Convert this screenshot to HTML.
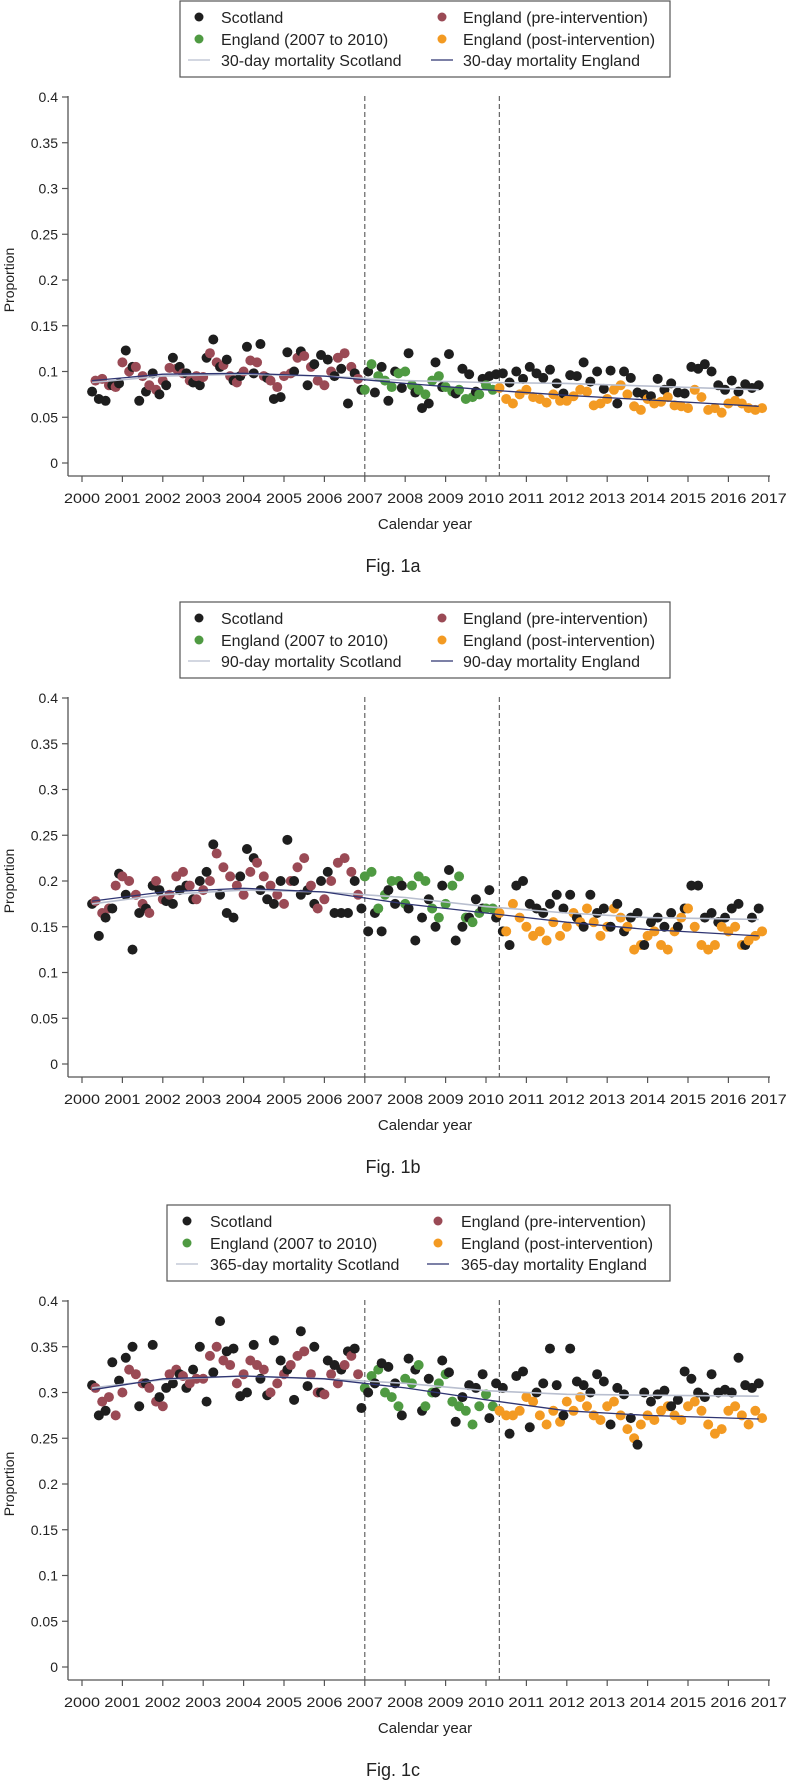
<!DOCTYPE html>
<html><head><meta charset="utf-8"><style>
html,body{margin:0;padding:0;background:#fff}
svg{display:block;font-family:"Liberation Sans",sans-serif}
</style></head><body>
<svg id="chart" width="787" height="1783" viewBox="0 0 787 1783" xmlns="http://www.w3.org/2000/svg"></svg>
<script>
// ---- data ----
const yearTicks = [2000,2001,2002,2003,2004,2005,2006,2007,2008,2009,2010,2011,2012,2013,2014,2015,2016,2017];
const yTickValues = [0,0.05,0.1,0.15,0.2,0.25,0.3,0.35,0.4];
const yTickLabels = ["0","0.05","0.1","0.15","0.2","0.25","0.3","0.35","0.4"];
const startYear = 2000.25, stepYear = 1/6;
const phaseBreaks = [2007, 2010.33];
const trendYears = [2000.25,2002,2004,2006,2008,2010,2012,2014,2016.75];
const panelTitles = ["Fig. 1a","Fig. 1b","Fig. 1c"];
const panelDays = ["30-day","90-day","365-day"];

const scotA = [.078,.070,.068,.085,.087, .123,.105,.068,.078,.098,.075, .085,.115,.105,.098,.088,.085, .115,.135,.105,.113,.090,.095, .127,.098,.130,.093,.070,.072, .121,.100,.122,.085,.108,.118, .113,.095,.103,.065,.098,.080, .100,.077,.105,.068,.100,.082, .120,.077,.060,.065,.110,.083, .119,.076,.103,.097,.078,.092, .095,.097,.098,.088,.100,.092, .105,.098,.093,.102,.087,.076, .096,.095,.110,.089,.100,.081, .101,.065,.100,.093,.077,.075, .073,.092,.080,.087,.077,.076, .105,.103,.108,.100,.085,.080, .090,.078,.086,.082,.085];
const engA = [.090,.092,.085,.083,.110, .100,.105,.095,.085,.080,.090, .104,.103,.098,.090,.095,.094, .120,.110,.107,.095,.088,.100, .112,.110,.095,.090,.083,.095, .098,.115,.117,.105,.090,.085, .100,.115,.120,.105,.092,.080, .108,.095,.090,.083,.098,.100, .085,.080,.075,.090,.095,.083, .078,.080,.070,.072,.075,.085, .080,.082,.070,.065,.075,.080, .072,.070,.066,.075,.068,.068, .073,.080,.078,.063,.065,.070, .080,.085,.075,.062,.058,.070, .065,.067,.072,.063,.062,.060, .080,.072,.058,.060,.055,.065, .068,.065,.060,.058,.060];
const scotTrendA = [.088,.095,.097,.095,.090,.088,.087,.084,.080];
const engTrendA = [.090,.097,.098,.095,.087,.080,.074,.069,.062];

const scotB = [.175,.140,.160,.170,.208, .185,.125,.165,.170,.195,.190, .178,.175,.190,.195,.180,.200, .210,.240,.185,.165,.160,.205, .235,.225,.190,.180,.175,.200, .245,.200,.185,.190,.175,.200, .210,.165,.165,.165,.200,.170, .145,.165,.145,.190,.175,.195, .170,.135,.160,.180,.150,.195, .212,.135,.150,.160,.180,.170, .190,.160,.145,.130,.195,.200, .175,.170,.165,.175,.185,.170, .185,.160,.150,.185,.165,.170, .150,.175,.145,.160,.165,.130, .155,.160,.150,.165,.150,.170, .195,.195,.160,.165,.155,.160, .170,.175,.130,.160,.170];
const engB = [.178,.165,.170,.195,.205, .200,.185,.175,.165,.200,.180, .185,.205,.210,.195,.180,.190, .200,.230,.215,.205,.195,.185, .210,.220,.205,.195,.185,.175, .200,.215,.225,.195,.170,.180, .200,.220,.225,.210,.185,.205, .210,.170,.185,.200,.200,.175, .195,.205,.200,.170,.160,.175, .195,.205,.160,.155,.165,.170, .170,.165,.145,.175,.160,.150, .140,.145,.135,.155,.140,.150, .165,.155,.170,.155,.140,.150, .170,.160,.150,.125,.130,.140, .145,.130,.125,.145,.160,.170, .150,.130,.125,.130,.150,.145, .150,.130,.135,.140,.145];
const scotTrendB = [.175,.185,.190,.188,.182,.172,.165,.160,.158];
const engTrendB = [.178,.188,.192,.188,.175,.165,.155,.147,.140];

const scotC = [.308,.275,.280,.333,.313, .338,.350,.285,.310,.352,.295, .305,.310,.320,.305,.325,.350, .290,.322,.378,.345,.348,.296, .300,.352,.315,.297,.357,.335, .325,.292,.367,.307,.350,.300, .335,.330,.325,.345,.348,.283, .300,.310,.332,.328,.310,.275, .337,.325,.280,.315,.300,.335, .322,.268,.295,.308,.305,.320, .272,.310,.305,.255,.318,.323, .262,.300,.310,.348,.308,.275, .348,.312,.308,.300,.320,.312, .265,.305,.298,.272,.243,.300, .290,.298,.302,.285,.292,.323, .315,.300,.295,.320,.300,.303, .300,.338,.308,.305,.310];
const engC = [.305,.290,.295,.275,.300, .325,.320,.310,.305,.290,.285, .320,.325,.318,.310,.315,.315, .340,.350,.335,.330,.310,.320, .335,.330,.325,.300,.310,.320, .330,.340,.345,.320,.300,.298, .320,.310,.330,.340,.320,.305, .318,.325,.300,.295,.285,.315, .310,.330,.285,.300,.310,.320, .290,.285,.280,.265,.285,.298, .285,.280,.275,.275,.280,.295, .290,.275,.265,.280,.268,.290, .280,.295,.285,.275,.270,.285, .290,.275,.260,.250,.265,.275, .270,.280,.285,.275,.270,.285, .290,.280,.265,.255,.260,.280, .285,.275,.265,.280,.272];
const scotTrendC = [.305,.314,.318,.315,.310,.302,.298,.297,.296];
const engTrendC = [.303,.315,.318,.315,.305,.292,.280,.275,.271];

const panelOffsets = [0, 601, 1204];

// ---- drawing ----
const NS = "http://www.w3.org/2000/svg";
const svg = document.getElementById("chart");
function mk(tag, attrs, parent){
  const e = document.createElementNS(NS, tag);
  for (const k in attrs) e.setAttribute(k, attrs[k]);
  (parent||svg).appendChild(e);
  return e;
}
const COL = {scot:"#1e1e1e", pre:"#9a4a55", mid:"#4f9a42", post:"#f39a22", scotLine:"#b9bfcf", engLine:"#2f3572"};
function xs(t){ return 82 + (t - 2000) * 40.4; }
function ys(v, off){ return off + 463 - v * 915; }

function drawPanel(p, scot, eng, scotTrend, engTrend){
  const off = panelOffsets[p];
  const g = mk("g", {});
  
  

  // legend
  const wide = p === 2;
  const lx = wide ? 167 : 180, lw = wide ? 503 : 490;
  const leg = mk("g", {}, g);
  
  
  mk("rect", {x:lx, y:off+1, width:lw, height:76, fill:"#fff", stroke:"#555", "stroke-width":1.2}, leg);
  const c1m = wide ? 187 : 199, c1t = wide ? 210 : 221, c2m = wide ? 438 : 442, c2t = wide ? 461 : 463;
  const entries = [
    [c1m, c1t, 17, "dot", COL.scot, "Scotland"],
    [c2m, c2t, 17, "dot", COL.pre, "England (pre-intervention)"],
    [c1m, c1t, 39, "dot", COL.mid, "England (2007 to 2010)"],
    [c2m, c2t, 39, "dot", COL.post, "England (post-intervention)"],
    [c1m, c1t, 60, "line", COL.scotLine, panelDays[p] + " mortality Scotland"],
    [c2m, c2t, 60, "line", COL.engLine, panelDays[p] + " mortality England"]
  ];
  entries.forEach(en => {
    const eg = mk("g", {}, leg);
    
    
    if (en[3] === "dot") mk("circle", {cx:en[0], cy:off+en[2], r:4.5, fill:en[4]}, eg);
    else mk("line", {x1:en[0]-11, x2:en[0]+11, y1:off+en[2], y2:off+en[2], stroke:en[4], "stroke-width":1.3}, eg);
    const t = mk("text", {x:en[1], y:off+en[2]+6, "font-size":16, fill:"#222"}, eg);
    t.textContent = en[5];
  });

  // axes
  const ax = mk("g", {}, g);
  
  
  mk("line", {x1:68, x2:68, y1:off+96, y2:off+476, stroke:"#555", "stroke-width":1.3}, ax);
  mk("line", {x1:68, x2:770, y1:off+476, y2:off+476, stroke:"#555", "stroke-width":1.3}, ax);
  yTickValues.forEach((v, i) => {
    const y = ys(v, off);
    mk("line", {x1:62, x2:68, y1:y, y2:y, stroke:"#555", "stroke-width":1.2}, ax);
    const t = mk("text", {x:58, y:y+5, "font-size":14, "text-anchor":"end", fill:"#222"}, ax);
    
    
    t.textContent = yTickLabels[i];
  });
  yearTicks.forEach(yr => {
    const x = xs(yr);
    mk("line", {x1:x, x2:x, y1:off+476, y2:off+482, stroke:"#555", "stroke-width":1.2}, ax);
    const t = mk("text", {x:x, y:off+503, "font-size":14, "text-anchor":"middle", fill:"#222", textLength:36, lengthAdjust:"spacingAndGlyphs"}, ax);
    
    
    t.textContent = yr;
  });
  const xt = mk("text", {x:425, y:off+529, "font-size":15, "text-anchor":"middle", fill:"#222"}, ax);
  
  
  xt.textContent = "Calendar year";
  const yt = mk("text", {x:0, y:0, "font-size":14, "text-anchor":"middle", fill:"#222", transform:`translate(14,${off+280}) rotate(-90)`}, ax);
  
  
  yt.textContent = "Proportion";
  const ft = mk("text", {x:393, y:off+572, "font-size":18, "text-anchor":"middle", fill:"#222"}, g);
  
  
  ft.textContent = panelTitles[p];

  // dashed intervention lines
  phaseBreaks.forEach(b => {
    const l = mk("line", {x1:xs(b), x2:xs(b), y1:off+96, y2:off+476, stroke:"#555", "stroke-width":1.1, "stroke-dasharray":"5,3"}, g);
    
    
  });

  // points
  const pts = mk("g", {}, g);
  
  
  function colEng(t){ return t < phaseBreaks[0] ? COL.pre : (t < phaseBreaks[1] ? COL.mid : COL.post); }
  for (let i = 0; i < scot.length; i++) {
    const t = startYear + i * stepYear;
    const c = mk("circle", {cx:xs(t), cy:ys(scot[i], off), r:5, fill:COL.scot}, pts);
    
    
    const t2 = t + stepYear / 2;
    if (i < eng.length) {
      const e = mk("circle", {cx:xs(t2), cy:ys(eng[i], off), r:5, fill:colEng(t2)}, pts);
      
      
    }
  }

  // trend lines
  function path(arr){ return arr.map((v,i)=> (i?"L":"M") + xs(trendYears[i]).toFixed(1) + " " + ys(v, off).toFixed(1)).join(" "); }
  const sl = mk("path", {d:path(scotTrend), fill:"none", stroke:COL.scotLine, "stroke-width":1.6}, g);
  
  
  const el = mk("path", {d:path(engTrend), fill:"none", stroke:COL.engLine, "stroke-width":1.3}, g);
  
  
}

drawPanel(0, scotA, engA, scotTrendA, engTrendA);
drawPanel(1, scotB, engB, scotTrendB, engTrendB);
drawPanel(2, scotC, engC, scotTrendC, engTrendC);
</script>
</body></html>
